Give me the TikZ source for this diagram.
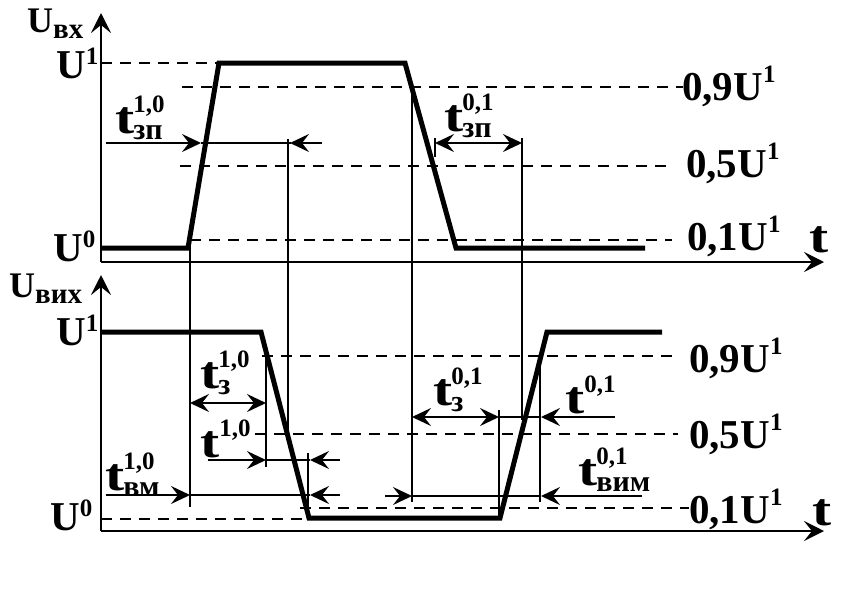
\documentclass[tikz,border=0pt]{standalone}
\usepackage{fontspec}
\setmainfont{Liberation Serif}
\usetikzlibrary{arrows.meta}
\newcommand{\Sp}[2]{\raisebox{#1}{\fontsize{25}{25}\selectfont #2}}
\newcommand{\Sb}[2]{\raisebox{-#1}{\fontsize{30}{30}\selectfont #2}}
\newcommand{\SpSb}[2]{\setbox0\hbox{\Sp{21pt}{#1}}\setbox2\hbox{\Sb{6pt}{#2}}%
  \ifdim\wd0>\wd2 \dimen0=\wd0 \else \dimen0=\wd2 \fi
  \kern-1pt\hbox to \dimen0{\rlap{\box0}\rlap{\box2}\hss}}
\newcommand{\Tt}{\scalebox{1.25}[1]{\fontsize{46}{46}\selectfont t}}
\begin{document}
\begin{tikzpicture}[x=1pt,y=-1pt,
  axis/.style={line width=2.5pt,-{Stealth[length=20pt,width=20pt,inset=8pt]}},
  sig/.style={line width=5pt,line join=miter},
  lvl/.style={line width=2.2pt,dash pattern=on 11pt off 8pt},
  thin/.style={line width=1.8pt},
  arr/.style={line width=1.8pt,-{Stealth[length=19pt,width=18pt,inset=7pt]}},
  darr/.style={line width=1.8pt,{Stealth[length=19pt,width=18pt,inset=7pt]}-{Stealth[length=19pt,width=18pt,inset=7pt]}},
  lab/.style={inner sep=0pt,anchor=base west,font=\fontsize{41}{41}\selectfont\bfseries}]
\useasboundingbox (0,0) rectangle (845,592);
\fill[white] (0,0) rectangle (845,592);

% ---------- top panel ----------
\coordinate (o1) at (101,262);
\draw[axis] (o1) -- (101,13);
\draw[axis] (o1) -- (824,262);
\draw[sig] (101,248) -- (188,248) -- (219,63) -- (405,63) -- (456,248) -- (645,248);
\draw[lvl] (101,63) -- (219,63);
\draw[lvl] (182,87) -- (683,87);
\draw[lvl] (180,166) -- (672,166);
\draw[lvl] (190,240) -- (672,240);

% ---------- bottom panel ----------
\coordinate (o2) at (101,531);
\draw[axis] (o2) -- (101,275);
\draw[axis] (o2) -- (824,531);
\draw[sig] (101,332) -- (261,332) -- (309,518) -- (500,518) -- (547,332) -- (662,332);
\draw[lvl] (101,519) -- (305,519);
\draw[lvl] (262,356) -- (678,356);
\draw[lvl] (255,434) -- (678,434);
\draw[lvl] (300,508) -- (689,508);

% ---------- thin verticals ----------
\draw[thin] (190,240) -- (190,507);
\draw[thin] (288,139) -- (288,437);
\draw[thin] (412,87) -- (412,502);
\draw[thin] (522,138) -- (522,420);
\draw[thin] (435,138) -- (435,157);
\draw[thin] (266,356) -- (266,467);
\draw[thin] (308,453) -- (308,518);
\draw[thin] (499,410) -- (499,518);
\draw[thin] (540,356) -- (540,502);

% ---------- time arrows ----------
\draw[arr] (106,143) -- (201,143);
\draw[thin] (201,143) -- (291,143);
\draw[arr] (322,143) -- (290,143);
\draw[darr] (435,143) -- (522,143);

\draw[darr] (190,403) -- (266,403);
\draw[arr] (208,460) -- (266,460);
\draw[thin] (266,460) -- (310,460);
\draw[arr] (340,460) -- (310,460);
\draw[arr] (106,495) -- (190,495);
\draw[thin] (190,495) -- (310,495);
\draw[arr] (340,495) -- (310,495);

\draw[darr] (412,417) -- (499,417);
\draw[thin] (499,417) -- (541,417);
\draw[arr] (615,417) -- (541,417);
\draw[arr] (385,496) -- (412,496);
\draw[thin] (412,496) -- (541,496);
\draw[arr] (642,496) -- (541,496);

% ---------- labels ----------
\node[lab] (uvx) at (27,32) {{\fontsize{36}{36}\selectfont U}\raisebox{-6pt}{\fontsize{29}{29}\selectfont вх}};
\node[lab] (u1a) at (56,78) {U\Sp{14pt}{1}};
\node[lab] (u0a) at (53,261) {U\Sp{14pt}{0}};
\node[lab] (tzp10) at (115,133) {\Tt\SpSb{1,0}{зп}};
\node[lab] (tzp01) at (444,131) {\Tt\SpSb{0,1}{зп}};
\node[lab] (n9a) at (682,100) {0,9U\Sp{18pt}{1}};
\node[lab] (n5a) at (686,177) {0,5U\Sp{18pt}{1}};
\node[lab] (n1a) at (687,250) {0,1U\Sp{18pt}{1}};
\node[lab] (ta) at (809,252) {\Tt};

\node[lab] (uvix) at (9,297) {{\fontsize{36}{36}\selectfont U}\raisebox{-6pt}{\fontsize{29}{29}\selectfont вих}};
\node[lab] (u1b) at (56,345) {U\Sp{14pt}{1}};
\node[lab] (u0b) at (50,530) {U\Sp{14pt}{0}};
\node[lab] (tz10) at (200,388) {\Tt\SpSb{1,0}{з}};
\node[lab] (tf10) at (200,457) {\Tt\Sp{21pt}{1,0}};
\node[lab] (tvm10) at (105,490) {\Tt\SpSb{1,0}{вм}};
\node[lab] (tz01) at (433,405) {\Tt\SpSb{0,1}{з}};
\node[lab] (tf01) at (565,413) {\Tt\Sp{21pt}{0,1}};
\node[lab] (tvim01) at (578,485) {\Tt\SpSb{0,1}{вим}};
\node[lab] (n9b) at (689,372) {0,9U\Sp{18pt}{1}};
\node[lab] (n5b) at (689,448) {0,5U\Sp{18pt}{1}};
\node[lab] (n1b) at (689,523) {0,1U\Sp{18pt}{1}};
\node[lab] (tb) at (812,525) {\Tt};
\end{tikzpicture}
\end{document}
